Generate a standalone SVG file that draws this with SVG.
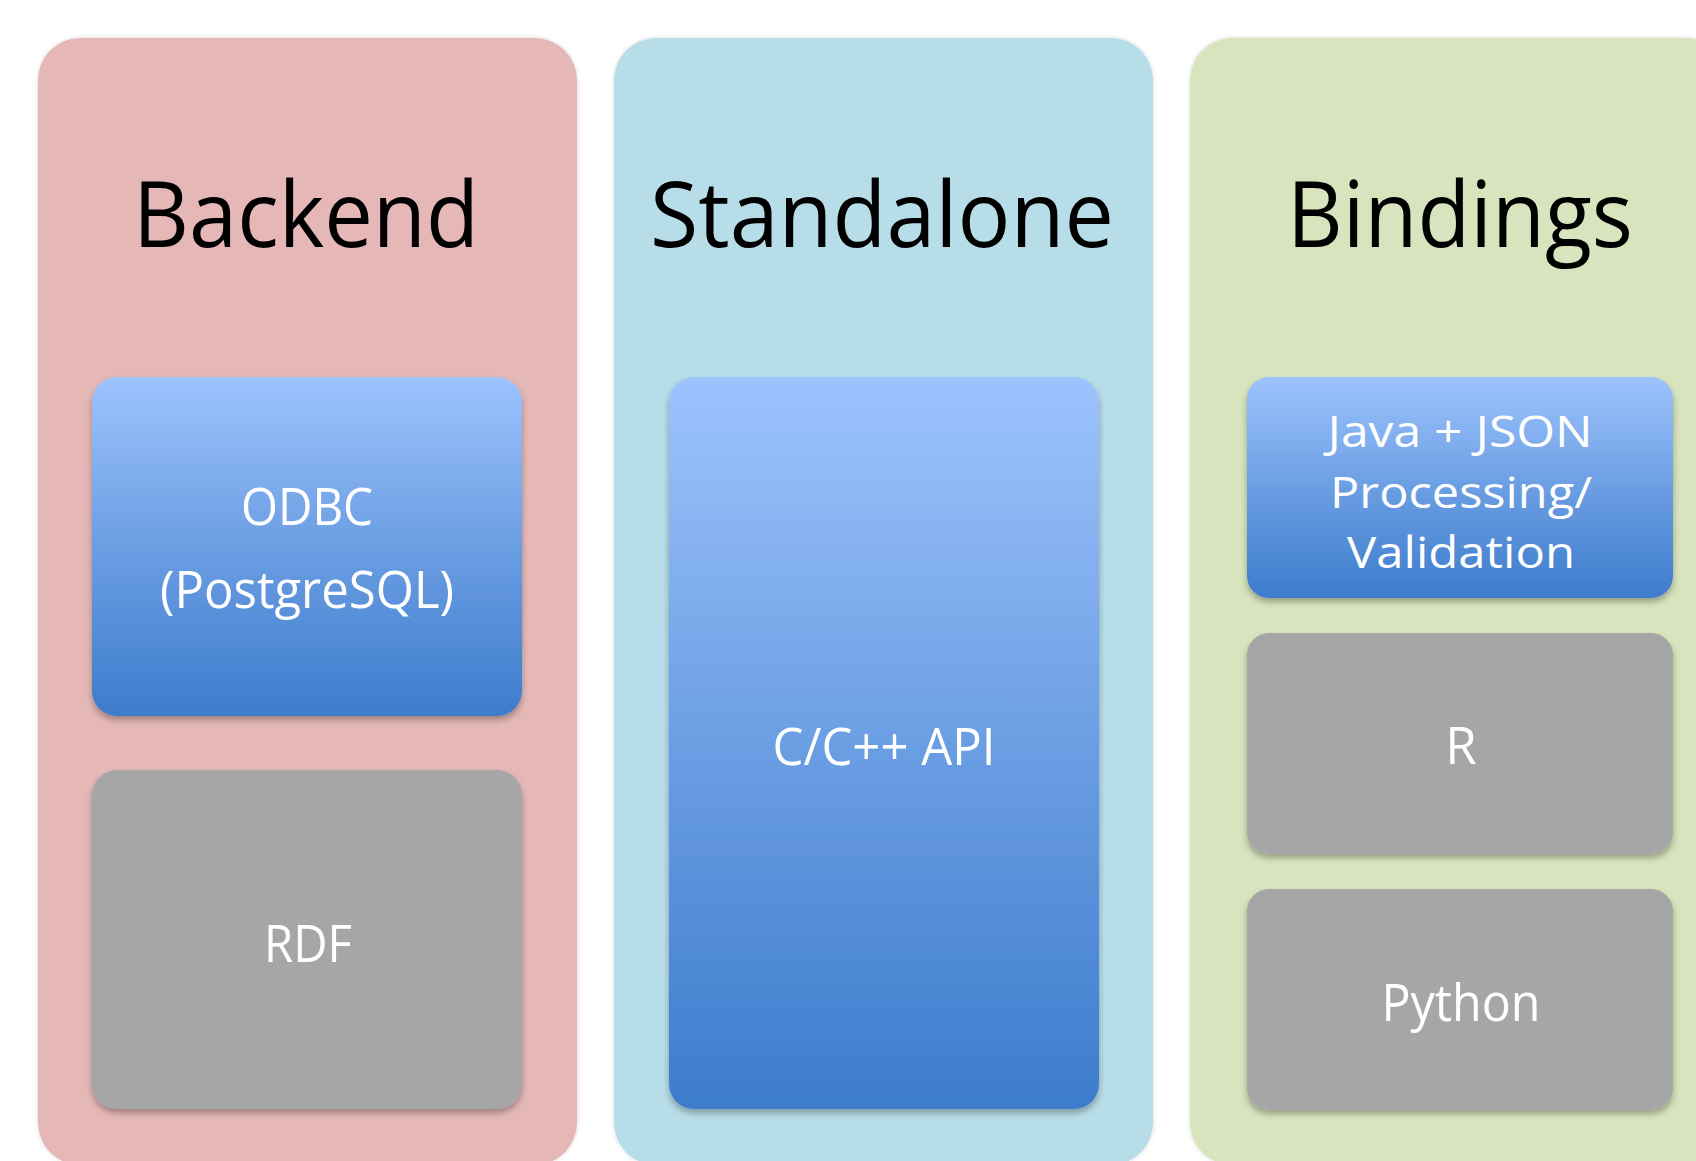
<svg xmlns="http://www.w3.org/2000/svg" width="1696" height="1161" viewBox="0 0 1696 1161">
  <style>
    .title { font-family: "Open Sans", "Liberation Sans", sans-serif; font-size: 91px; fill: #000000; text-anchor: middle; }
    .lbl { font-family: "Open Sans", "Liberation Sans", sans-serif; font-size: 51px; fill: #FFFFFF; text-anchor: middle; }
    .lbl-sm { font-family: "Open Sans", "Liberation Sans", sans-serif; font-size: 44px; fill: #FFFFFF; text-anchor: middle; }
    .blue { fill: url(#blueGrad); filter: url(#boxShadow); }
    .gray { fill: #A6A6A6; filter: url(#boxShadow); }
    .panel { filter: url(#panelShadow); }
  </style>
  <defs>
    <linearGradient id="blueGrad" x1="0" y1="0" x2="0" y2="1">
      <stop offset="0" stop-color="#9DC3FD"/>
      <stop offset="0.5" stop-color="#6B9EE3"/>
      <stop offset="1" stop-color="#3D7CCC"/>
    </linearGradient>
    <filter id="boxShadow" x="-10%" y="-10%" width="120%" height="125%">
      <feDropShadow dx="0" dy="4" stdDeviation="3" flood-color="#000000" flood-opacity="0.3"/>
    </filter>
    <filter id="panelShadow" x="-5%" y="-5%" width="110%" height="110%">
      <feDropShadow dx="0" dy="0" stdDeviation="2" flood-color="#000000" flood-opacity="0.15"/>
    </filter>
  </defs>
  <rect x="0" y="0" width="1696" height="1161" fill="#FFFFFF"/>

  <g id="backend">
    <rect class="panel" x="38" y="38" width="539" height="1127" rx="42" ry="42" fill="#E5B8B7"/>
    <text class="title" x="306" y="247" textLength="346" lengthAdjust="spacingAndGlyphs">Backend</text>
  </g>
  <g id="odbc">
    <rect class="blue" x="92" y="377" width="430" height="339" rx="25" ry="25"/>
    <text class="lbl" x="307" y="525" textLength="132" lengthAdjust="spacingAndGlyphs">ODBC</text>
    <text class="lbl" x="307" y="608" textLength="294" lengthAdjust="spacingAndGlyphs">(PostgreSQL)</text>
  </g>
  <g id="rdf">
    <rect class="gray" x="92" y="770" width="430" height="339" rx="25" ry="25"/>
    <text class="lbl" x="308" y="962" textLength="88" lengthAdjust="spacingAndGlyphs">RDF</text>
  </g>

  <g id="standalone">
    <rect class="panel" x="614" y="38" width="539" height="1127" rx="42" ry="42" fill="#B7DDE8"/>
    <text class="title" x="882" y="247" textLength="464" lengthAdjust="spacingAndGlyphs">Standalone</text>
  </g>
  <g id="capi">
    <rect class="blue" x="669" y="377" width="430" height="732" rx="25" ry="25"/>
    <text class="lbl" x="884" y="765" textLength="223" lengthAdjust="spacingAndGlyphs">C/C++ API</text>
  </g>

  <g id="bindings">
    <rect class="panel" x="1190" y="38" width="539" height="1127" rx="42" ry="42" fill="#D7E4BD"/>
    <text class="title" x="1460" y="247" textLength="346" lengthAdjust="spacingAndGlyphs">Bindings</text>
  </g>
  <g id="java">
    <rect class="blue" x="1247" y="377" width="426" height="221" rx="22" ry="22"/>
    <text class="lbl-sm" x="1460" y="447" textLength="265" lengthAdjust="spacingAndGlyphs">Java + JSON</text>
    <text class="lbl-sm" x="1461" y="508" textLength="262" lengthAdjust="spacingAndGlyphs">Processing/</text>
    <text class="lbl-sm" x="1461" y="568" textLength="228" lengthAdjust="spacingAndGlyphs">Validation</text>
  </g>
  <g id="r">
    <rect class="gray" x="1247" y="633" width="426" height="221" rx="22" ry="22"/>
    <text class="lbl" x="1461" y="764">R</text>
  </g>
  <g id="python">
    <rect class="gray" x="1247" y="889" width="426" height="221" rx="22" ry="22"/>
    <text class="lbl" x="1461" y="1021" textLength="159" lengthAdjust="spacingAndGlyphs">Python</text>
  </g>

  <g id="connectors"/>
</svg>
